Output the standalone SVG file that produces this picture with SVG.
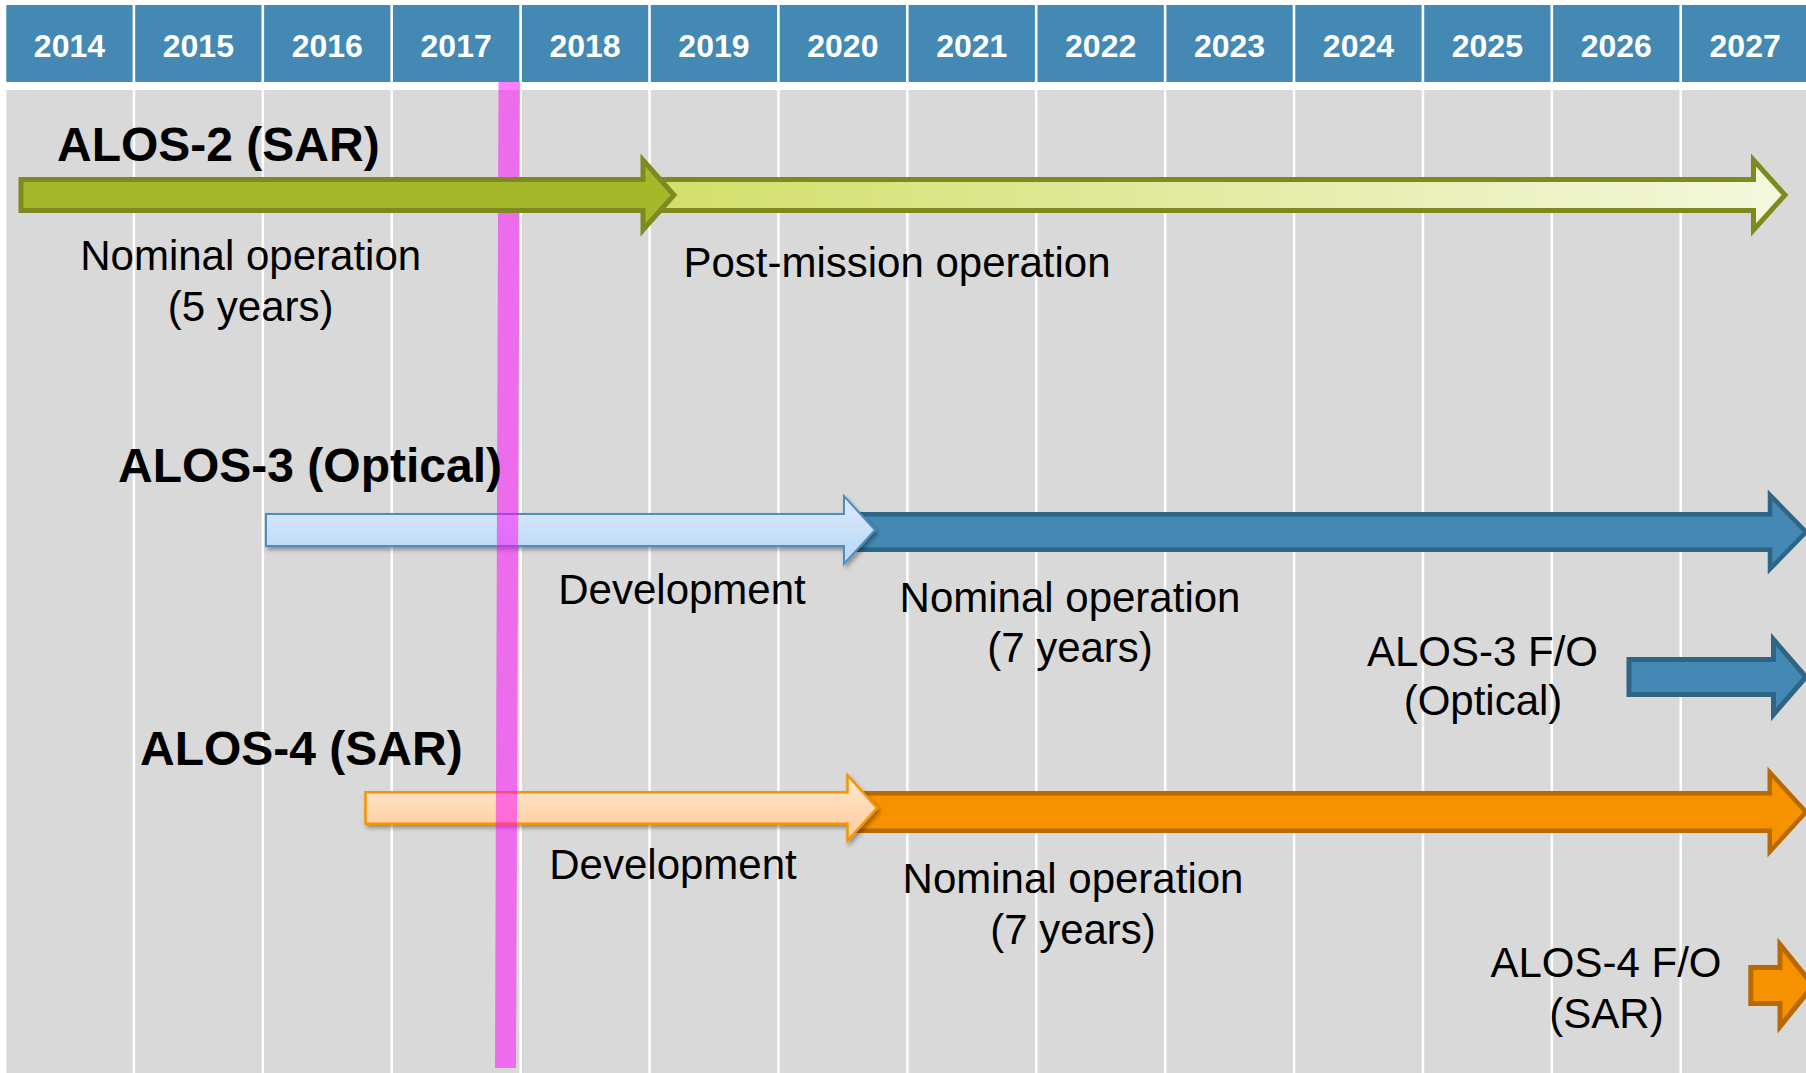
<svg xmlns="http://www.w3.org/2000/svg" width="1806" height="1073" viewBox="0 0 1806 1073">
  <style>
    .yr { font: bold 32px "Liberation Sans", Arial, sans-serif; fill: #ffffff; text-anchor: middle; }
    .title { font: bold 48px "Liberation Sans", Arial, sans-serif; fill: #000000; }
    .lbl { font: 42px "Liberation Sans", Arial, sans-serif; fill: #000000; text-anchor: middle; }
    .cell { fill: #4389B4; }
    .grid { fill: #ffffff; }
    .a2-nom { fill: #A5B82A; stroke: #7E8A1F; stroke-width: 5; }
    .a2-post { fill: url(#gPost); stroke: #7E8A1F; stroke-width: 5; }
    .a3-dev { fill: url(#gDev3); stroke: #4D8EC1; stroke-width: 2; filter: url(#shadow); }
    .a3-nom { fill: #4389B4; stroke: #2E6585; stroke-width: 4.5; }
    .a3-fo { fill: #4389B4; stroke: #2E6585; stroke-width: 5; }
    .a4-dev { fill: url(#gDev4); stroke: #F79400; stroke-width: 2.5; filter: url(#shadow); }
    .a4-nom { fill: #F69200; stroke: #B86A00; stroke-width: 4.5; }
    .a4-fo { fill: #F69200; stroke: #B86A00; stroke-width: 5; }
  </style>
  <defs>
    <linearGradient id="gPost" gradientUnits="userSpaceOnUse" x1="660" y1="0" x2="1790" y2="0">
      <stop offset="0" stop-color="#D2DF6A"/>
      <stop offset="1" stop-color="#F4F8DE"/>
    </linearGradient>
    <linearGradient id="gDev3" x1="0" y1="0" x2="0" y2="1">
      <stop offset="0" stop-color="#DDEBFB"/>
      <stop offset="1" stop-color="#B7D6F6"/>
    </linearGradient>
    <linearGradient id="gDev4" x1="0" y1="0" x2="0" y2="1">
      <stop offset="0" stop-color="#FFE8D2"/>
      <stop offset="1" stop-color="#FFCB98"/>
    </linearGradient>
    <filter id="shadow" x="-5%" y="-30%" width="110%" height="170%">
      <feDropShadow dx="2" dy="3" stdDeviation="2" flood-color="#000000" flood-opacity="0.35"/>
    </filter>
  </defs>

  <rect x="0" y="0" width="1806" height="1073" fill="#ffffff"/>

  <!-- year header: one cell per year, 128.9 px pitch -->
  <g id="header">
    <rect class="cell" x="6.3" y="5" width="126.3" height="77"/>
    <rect class="cell" x="135.2" y="5" width="126.3" height="77"/>
    <rect class="cell" x="264.1" y="5" width="126.3" height="77"/>
    <rect class="cell" x="393" y="5" width="126.3" height="77"/>
    <rect class="cell" x="521.9" y="5" width="126.3" height="77"/>
    <rect class="cell" x="650.8" y="5" width="126.3" height="77"/>
    <rect class="cell" x="779.7" y="5" width="126.3" height="77"/>
    <rect class="cell" x="908.6" y="5" width="126.3" height="77"/>
    <rect class="cell" x="1037.5" y="5" width="126.3" height="77"/>
    <rect class="cell" x="1166.4" y="5" width="126.3" height="77"/>
    <rect class="cell" x="1295.3" y="5" width="126.3" height="77"/>
    <rect class="cell" x="1424.2" y="5" width="126.3" height="77"/>
    <rect class="cell" x="1553.1" y="5" width="126.3" height="77"/>
    <rect class="cell" x="1682" y="5" width="126.3" height="77"/>
    <text class="yr" x="69.45" y="57">2014</text>
    <text class="yr" x="198.35" y="57">2015</text>
    <text class="yr" x="327.25" y="57">2016</text>
    <text class="yr" x="456.15" y="57">2017</text>
    <text class="yr" x="585.05" y="57">2018</text>
    <text class="yr" x="713.95" y="57">2019</text>
    <text class="yr" x="842.85" y="57">2020</text>
    <text class="yr" x="971.75" y="57">2021</text>
    <text class="yr" x="1100.65" y="57">2022</text>
    <text class="yr" x="1229.55" y="57">2023</text>
    <text class="yr" x="1358.45" y="57">2024</text>
    <text class="yr" x="1487.35" y="57">2025</text>
    <text class="yr" x="1616.25" y="57">2026</text>
    <text class="yr" x="1745.15" y="57">2027</text>
  </g>

  <!-- chart area with year grid -->
  <g id="grid">
    <rect x="6.3" y="90" width="1800" height="983" fill="#D9D9D9"/>
    <rect class="grid" x="132.7" y="90" width="2.5" height="983"/>
    <rect class="grid" x="261.6" y="90" width="2.5" height="983"/>
    <rect class="grid" x="390.5" y="90" width="2.5" height="983"/>
    <rect class="grid" x="519.4" y="90" width="2.5" height="983"/>
    <rect class="grid" x="648.3" y="90" width="2.5" height="983"/>
    <rect class="grid" x="777.2" y="90" width="2.5" height="983"/>
    <rect class="grid" x="906.1" y="90" width="2.5" height="983"/>
    <rect class="grid" x="1035" y="90" width="2.5" height="983"/>
    <rect class="grid" x="1163.9" y="90" width="2.5" height="983"/>
    <rect class="grid" x="1292.8" y="90" width="2.5" height="983"/>
    <rect class="grid" x="1421.7" y="90" width="2.5" height="983"/>
    <rect class="grid" x="1550.6" y="90" width="2.5" height="983"/>
    <rect class="grid" x="1679.5" y="90" width="2.5" height="983"/>
  </g>

  <!-- ALOS-3 phases -->
  <g id="alos3-bars">
    <path class="a3-nom" d="M852,514.25 H1770 V495 L1806,532 L1770,569 V549.75 H852 Z"/>
    <path class="a3-dev" d="M266,514 H844 V496 L875,530 L844,564 V546 H266 Z"/>
    <path class="a3-fo" d="M1629,659.5 H1773.5 V639.5 L1806,677 L1773.5,714.5 V694.5 H1629 Z"/>
  </g>

  <!-- ALOS-4 phases -->
  <g id="alos4-bars">
    <path class="a4-nom" d="M854,793.25 H1769.75 V772.25 L1806,812 L1769.75,851.75 V830.75 H854 Z"/>
    <path class="a4-dev" d="M365.5,792.25 H847.5 V775.25 L877,808 L847.5,840.75 V823.75 H365.5 Z"/>
    <path class="a4-fo" d="M1750.8,967.5 H1780 V944.5 L1813,985.5 L1780,1026.5 V1003.5 H1750.8 Z"/>
  </g>

  <!-- current-date marker -->
  <g id="today-marker">
    <polygon points="498.5,82 520,82 516,1068 495,1068" fill="#FF00FF" fill-opacity="0.5"/>
  </g>

  <!-- ALOS-2 phases -->
  <g id="alos2-bars">
    <path class="a2-post" d="M630,179.5 H1753.5 V160 L1785,195 L1753.5,230 V210.5 H630 Z"/>
    <path class="a2-nom" d="M21,179.5 H643 V160 L674,195 L643,230 V210.5 H21 Z"/>
  </g>

  <g id="alos2-labels">
    <text class="title" x="57" y="161">ALOS-2 (SAR)</text>
    <text class="lbl" x="250.7" y="269.5">Nominal operation</text>
    <text class="lbl" x="250.7" y="321">(5 years)</text>
    <text class="lbl" x="897" y="277">Post-mission operation</text>
  </g>

  <g id="alos3-labels">
    <text class="title" x="118" y="481.5">ALOS-3 (Optical)</text>
    <text class="lbl" x="682" y="603.5">Development</text>
    <text class="lbl" x="1070" y="611.5">Nominal operation</text>
    <text class="lbl" x="1070" y="662">(7 years)</text>
    <text class="lbl" x="1482.5" y="666">ALOS-3 F/O</text>
    <text class="lbl" x="1483" y="715">(Optical)</text>
  </g>

  <g id="alos4-labels">
    <text class="title" x="140" y="765">ALOS-4 (SAR)</text>
    <text class="lbl" x="673" y="879">Development</text>
    <text class="lbl" x="1073" y="893">Nominal operation</text>
    <text class="lbl" x="1073" y="944">(7 years)</text>
    <text class="lbl" x="1606" y="977">ALOS-4 F/O</text>
    <text class="lbl" x="1606.5" y="1028">(SAR)</text>
  </g>
</svg>
